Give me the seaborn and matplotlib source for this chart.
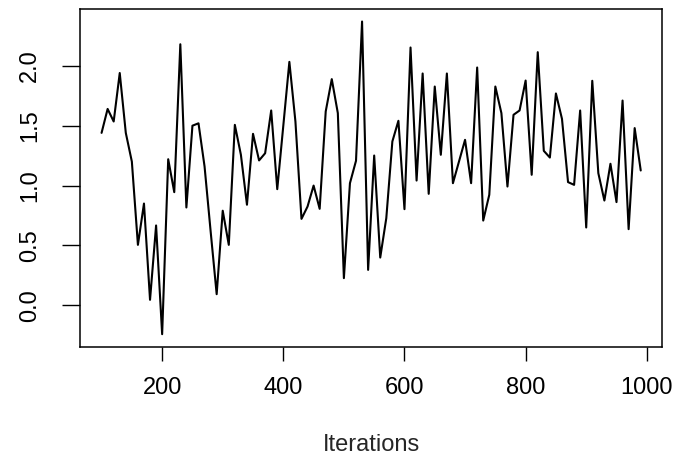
import matplotlib
matplotlib.use("Agg")
import matplotlib.pyplot as plt
import seaborn as sns
import pandas as pd

# trace values, iterations 100..990 every 10
iterations = list(range(100, 1000, 10))
values = [
    1.44, 1.64, 1.535, 1.94, 1.44, 1.20, 0.505, 0.85, 0.046, 0.667,
    -0.241, 1.22, 0.945, 2.18, 0.817, 1.50, 1.52, 1.16, 0.62, 0.093,
    0.79, 0.505, 1.507, 1.257, 0.84, 1.432, 1.21, 1.27, 1.627, 0.97,
    1.50, 2.033, 1.535, 0.722, 0.825, 1.00, 0.806, 1.619, 1.889, 1.605,
    0.227, 1.02, 1.207, 2.37, 0.296, 1.251, 0.399, 0.728, 1.368, 1.541,
    0.803, 2.153, 1.042, 1.936, 0.931, 1.827, 1.257, 1.936, 1.02, 1.201,
    1.382, 1.02, 1.986, 0.708, 0.923, 1.827, 1.605, 0.992, 1.591, 1.627,
    1.877, 1.09, 2.114, 1.29, 1.234, 1.769, 1.557, 1.029, 1.006, 1.627,
    0.65, 1.875, 1.104, 0.875, 1.182, 0.862, 1.71, 0.636, 1.48, 1.126,
]
x_ticks = [200, 400, 600, 800, 1000]
y_ticks = [0.0, 0.5, 1.0, 1.5, 2.0]
x_label = "Iterations"

df = pd.DataFrame({"iter": iterations, "value": values})

sns.set_style("ticks")
plt.rcParams["font.family"] = ["Liberation Sans", "DejaVu Sans"]

fig = plt.figure(figsize=(6.84, 4.59), dpi=100)
ax = fig.add_axes([80 / 684, 1 - 346.7 / 459, (662.3 - 80) / 684, (346.7 - 9) / 459])

sns.lineplot(data=df, x="iter", y="value", color="black", linewidth=1.5, ax=ax)

# R-style 4% padding
xr = max(iterations) - min(iterations)
yr = max(values) - min(values)
ax.set_xlim(min(iterations) - 0.04 * xr, max(iterations) + 0.04 * xr)
ax.set_ylim(min(values) - 0.04 * yr, max(values) + 0.04 * yr)

ax.set_xticks(x_ticks)
ax.set_yticks(y_ticks)
ax.set_yticklabels([f"{v:.1f}" for v in y_ticks], rotation=90, va="center")
ax.set_xlabel(x_label, fontsize=17, labelpad=25)
ax.set_ylabel("")

ax.tick_params(axis="x", length=10, width=1.0, pad=12, labelsize=17, colors="black")
ax.tick_params(axis="y", length=13, width=1.0, pad=15, labelsize=17, colors="black")
for s in ax.spines.values():
    s.set_visible(True)
    s.set_linewidth(1.1)
    s.set_color("black")

fig.savefig("out.png", dpi=100)
